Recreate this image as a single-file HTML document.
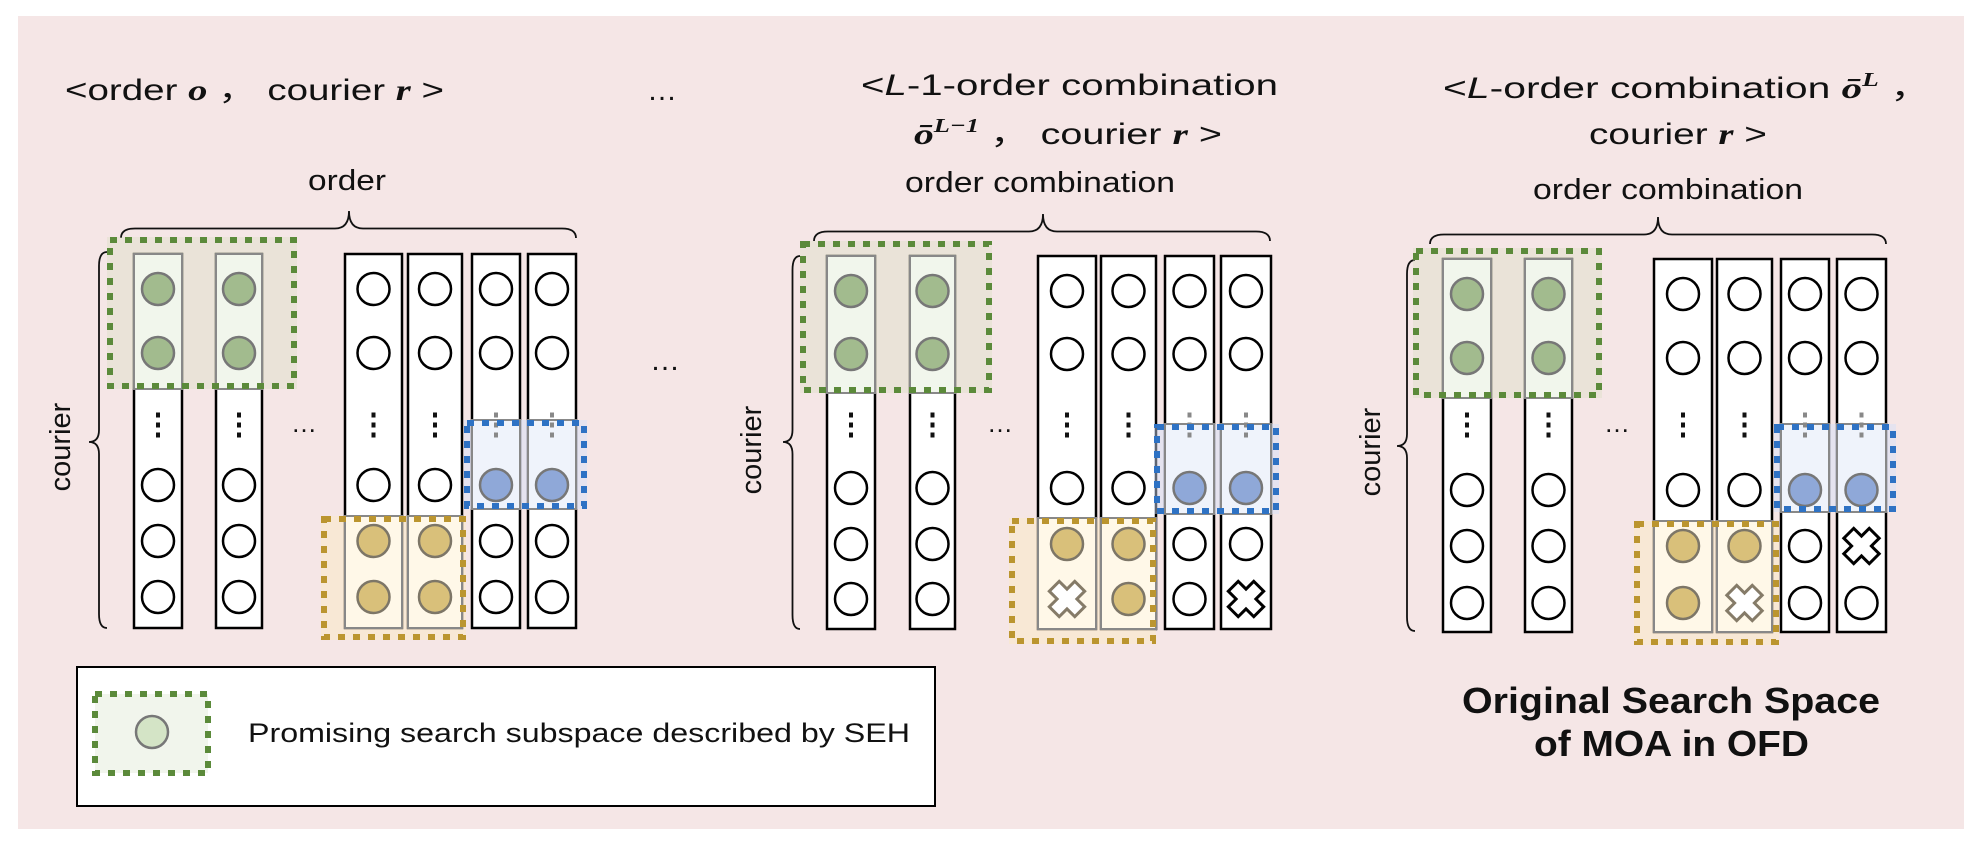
<!DOCTYPE html>
<html><head><meta charset="utf-8"><style>
html,body{margin:0;padding:0;background:#fff;}
svg{display:block;}
text{font-family:"Liberation Sans","DejaVu Sans",sans-serif;fill:#111;}
.m{font-family:"Liberation Serif","DejaVu Serif",serif;font-style:italic;font-weight:bold;}
</style></head><body>
<svg id="s" width="1984" height="850" viewBox="0 0 1984 850" xmlns="http://www.w3.org/2000/svg">
<rect x="0" y="0" width="1984" height="850" fill="#fff"/>
<rect x="18" y="16" width="1946" height="813" fill="#f5e6e6"/>
<g id="g"></g>
<text x="65" y="100" font-size="30" textLength="379" lengthAdjust="spacingAndGlyphs">&lt;order <tspan class="m">o</tspan> ， courier <tspan class="m">r</tspan> &gt;</text>
<text x="647" y="100" font-size="30">…</text>
<text x="861" y="95" font-size="30" textLength="417" lengthAdjust="spacingAndGlyphs">&lt;<tspan font-style="italic">L</tspan>-1-order combination</text>
<text x="914" y="144" font-size="30" textLength="308" lengthAdjust="spacingAndGlyphs"><tspan class="m">ō</tspan><tspan class="m" font-size="20" dy="-12">L−1</tspan><tspan dy="12"> ，  courier </tspan><tspan class="m">r</tspan> &gt;</text>
<text x="1443" y="98" font-size="30" textLength="488" lengthAdjust="spacingAndGlyphs">&lt;<tspan font-style="italic">L</tspan>-order combination   <tspan class="m">ō</tspan><tspan class="m" font-size="20" dy="-12">L</tspan><tspan dy="12">     ，</tspan></text>
<text x="1589" y="144" font-size="30" textLength="178" lengthAdjust="spacingAndGlyphs">courier <tspan class="m">r</tspan> &gt;</text>
<text x="308" y="190" font-size="29" textLength="78" lengthAdjust="spacingAndGlyphs">order</text>
<text x="905" y="192" font-size="29" textLength="270" lengthAdjust="spacingAndGlyphs">order combination</text>
<text x="1533" y="199" font-size="29" textLength="270" lengthAdjust="spacingAndGlyphs">order combination</text>
<text x="650" y="370" font-size="30">…</text>
<text x="1462" y="713" font-size="36" font-weight="bold" textLength="418" lengthAdjust="spacingAndGlyphs">Original Search Space</text>
<text x="1534" y="756" font-size="36" font-weight="bold" textLength="275" lengthAdjust="spacingAndGlyphs">of MOA in OFD</text>
<rect x="77" y="667" width="858" height="139" fill="#fff" stroke="#000" stroke-width="2"/>
<rect x="95" y="694" width="113" height="79" fill="#f1f5ec" stroke="#5b8a3a" stroke-width="6" stroke-dasharray="7 8"/>
<circle cx="152" cy="732" r="16" fill="#d4e4c6" stroke="#777" stroke-width="2.5"/>
<text x="248" y="742" font-size="27" textLength="662" lengthAdjust="spacingAndGlyphs">Promising search subspace described by  SEH</text>
</svg>
<script>
var NS="http://www.w3.org/2000/svg",G=document.getElementById('g');
function el(t,a,p){var e=document.createElementNS(NS,t);for(var k in a)e.setAttribute(k,a[k]);(p||G).appendChild(e);return e;}
var P=[
{cols:[[134,182],[216,262],[345,402],[408,462],[472,520],[528,576]],top:254,bot:628,rows:[289,353,425,485,541,597],green:[107,237,297,389],blue:[464,420,587,509],gold:[321,516,466,640],ell:[304,428],lb:[89,107,252,628,442],br:[121,576,211,238,349],cour:[60,447],x:[]},
{cols:[[827,875],[910,955],[1038,1096],[1101,1156],[1165,1214],[1221,1271]],top:256,bot:629,rows:[291,354,425,488,544,599],green:[800,241,992,393],blue:[1154,424,1279,514],gold:[1009,518,1156,644],ell:[1000,428],lb:[783,800,256,629,442],br:[814,1270,214,241,1043],cour:[751,450],x:[[2,5,0],[5,5,1]]},
{cols:[[1443,1491],[1525,1572],[1654,1712],[1717,1772],[1781,1829],[1837,1886]],top:259,bot:632,rows:[294,358,425,490,546,603],green:[1413,248,1602,398],blue:[1774,424,1896,512],gold:[1634,521,1779,645],ell:[1617,428],lb:[1397,1415,260,631,446],br:[1430,1886,217,244,1658],cour:[1370,452],x:[[3,5,0],[5,4,1]]}
];
P.forEach(function(p){
 var b=p.br,ym=(b[2]+b[3])/2+4;
 el('path',{d:'M'+b[0]+','+b[3]+' Q'+b[0]+','+ym+' '+(b[0]+14)+','+ym+' L'+(b[4]-14)+','+ym+' Q'+b[4]+','+ym+' '+b[4]+','+b[2]+' Q'+b[4]+','+ym+' '+(b[4]+14)+','+ym+' L'+(b[1]-14)+','+ym+' Q'+b[1]+','+ym+' '+b[1]+','+b[3],fill:'none',stroke:'#111','stroke-width':1.8});
 var l=p.lb,xm=(l[0]+l[1])/2+1;
 el('path',{d:'M'+l[1]+','+l[2]+' Q'+xm+','+l[2]+' '+xm+','+(l[2]+14)+' L'+xm+','+(l[4]-12)+' Q'+xm+','+l[4]+' '+l[0]+','+l[4]+' Q'+xm+','+l[4]+' '+xm+','+(l[4]+12)+' L'+xm+','+(l[3]-14)+' Q'+xm+','+l[3]+' '+l[1]+','+l[3],fill:'none',stroke:'#111','stroke-width':1.8});
 var t=el('text',{x:p.cour[0],y:p.cour[1],'font-size':29,'text-anchor':'middle',transform:'rotate(-90 '+p.cour[0]+' '+p.cour[1]+')',dy:10});t.textContent='courier';
 var e=el('text',{x:p.ell[0],y:p.ell[1]+4,'font-size':26,'text-anchor':'middle'});e.textContent='…';
 p.cols.forEach(function(c){el('rect',{x:c[0],y:p.top,width:c[1]-c[0],height:p.bot-p.top,fill:'#fff',stroke:'#000','stroke-width':2.5});});
 function box(bx,f){el('rect',{x:bx[0],y:bx[1],width:bx[2]-bx[0],height:bx[3]-bx[1],fill:f});}
 box(p.green,'rgba(215,222,190,0.35)');box(p.blue,'rgba(210,225,250,0.45)');box(p.gold,'rgba(255,235,180,0.35)');
 function tint(ci,bx,f){var c=p.cols[ci];var y1=Math.max(bx[1],p.top),y2=Math.min(bx[3],p.bot);el('rect',{x:c[0],y:y1,width:c[1]-c[0],height:y2-y1,fill:f,stroke:'#888','stroke-width':2});}
 tint(0,p.green,'#f1f6ec');tint(1,p.green,'#f1f6ec');tint(2,p.gold,'#fff8e8');tint(3,p.gold,'#fff8e8');tint(4,p.blue,'#eff3fb');tint(5,p.blue,'#eff3fb');
 for(var ci=0;ci<6;ci++){var c=p.cols[ci],cx=(c[0]+c[1])/2;
  for(var ri=0;ri<6;ri++){var cy=p.rows[ri];
   var xm=null;p.x.forEach(function(q){if(q[0]==ci&&q[1]==ri)xm=q;});
   if(ri==2){var col=(ci>=4)?'#888':'#111';for(var k=-1;k<=1;k++)el('rect',{x:cx-2,y:cy+k*10-2.5,width:4,height:5,fill:col});continue;}
   if(xm){var s=7,a=18;var col=xm[2]?'#000':'#857b68';
    el('path',{d:'M'+(cx-s)+','+(cy-a)+' L'+(cx-s)+','+(cy-s)+' L'+(cx-a)+','+(cy-s)+' L'+(cx-a)+','+(cy+s)+' L'+(cx-s)+','+(cy+s)+' L'+(cx-s)+','+(cy+a)+' L'+(cx+s)+','+(cy+a)+' L'+(cx+s)+','+(cy+s)+' L'+(cx+a)+','+(cy+s)+' L'+(cx+a)+','+(cy-s)+' L'+(cx+s)+','+(cy-s)+' L'+(cx+s)+','+(cy-a)+' Z',fill:'#fff',stroke:col,'stroke-width':3,transform:'rotate(45 '+cx+' '+cy+')'});continue;}
   var f='#fff',st='#000',sw=2.5;
   if(ci<2&&ri<2){f='#a2bb8e';st='#777';}
   else if(ci>=4&&ri==3){f='#8fa8d8';st='#777';}
   else if((ci==2||ci==3)&&ri>=4){f='#d9c07a';st='#7d7667';}
   el('circle',{cx:cx,cy:cy,r:16,fill:f,stroke:st,'stroke-width':sw});
  }}
 function dash(bx,c){el('rect',{x:bx[0]+3,y:bx[1]+3,width:bx[2]-bx[0]-6,height:bx[3]-bx[1]-6,fill:'none',stroke:c,'stroke-width':6,'stroke-dasharray':'7 8'});}
 dash(p.green,'#5b8a3a');dash(p.gold,'#bb952f');dash(p.blue,'#2e72c4');
});
</script>
</body></html>
